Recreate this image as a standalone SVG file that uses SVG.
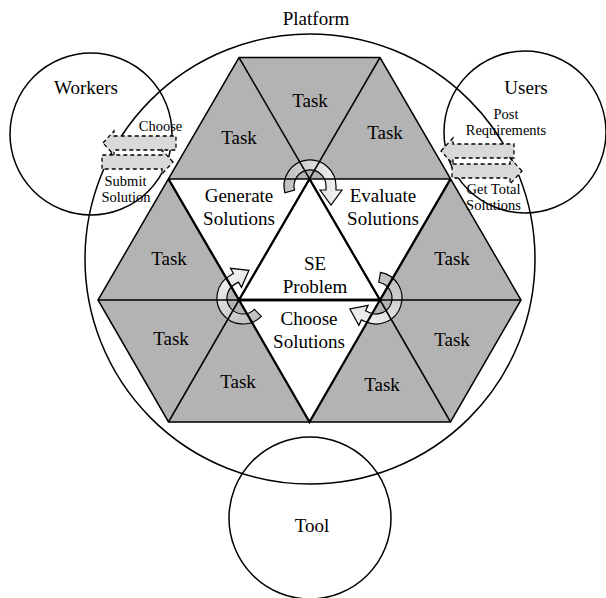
<svg xmlns="http://www.w3.org/2000/svg" width="606" height="598" viewBox="0 0 606 598">
<style>
  .txt{font-family:"Liberation Serif","Times New Roman",serif;fill:#000;text-anchor:middle}
  .big{font-size:19px}
  .sm{font-size:14.5px}
  .circ{fill:none;stroke:#000;stroke-width:1.5}
  .task{fill:#b3b3b3;stroke:none}
  .white{fill:#fff;stroke:none}
  .edge{fill:none;stroke:#000;stroke-width:1.5;stroke-linejoin:miter}
  .edge2{fill:none;stroke:#000;stroke-width:2.3;stroke-linejoin:miter}
  .blk{fill:#d9d9d9;stroke:#000;stroke-width:1.3;stroke-dasharray:4 3}
  .cyc{fill:url(#cg);stroke:#000;stroke-width:1.2}
</style>
<defs>
  <linearGradient id="cg" x1="0" y1="0" x2="1" y2="0">
    <stop offset="0" stop-color="#bdbdbd"/>
    <stop offset="1" stop-color="#f6f6f6"/>
  </linearGradient>
  <path id="cyc" class="cyc" d="M -25.11,6.73 A 26 26 0 1 1 26,0 L 26,4 L 32,4 L 21,19 L 10,4 L 16,4 L 16,0 A 16 16 0 1 0 -15.45,4.14 Z"/>
</defs>
<rect width="606" height="598" fill="#fff"/>

<g id="platform">
  <circle class="circ" cx="310" cy="259" r="225"/>
  <text class="txt big" x="316" y="25">Platform</text>
</g>
<g id="workers">
  <circle class="circ" cx="91" cy="134" r="81"/>
  <text class="txt big" x="86" y="94">Workers</text>
</g>
<g id="users">
  <circle class="circ" cx="525" cy="132" r="81"/>
  <text class="txt big" x="526" y="94">Users</text>
</g>
<g id="tool">
  <circle class="circ" cx="310" cy="518" r="81"/>
  <text class="txt big" x="312" y="532">Tool</text>
</g>

<g id="task-top-left"><polygon class="task" points="239,57.5 168.5,179 309.5,179"/><text class="txt big" x="239" y="144">Task</text></g>
<g id="task-top"><polygon class="task" points="239,57.5 380,57.5 309.5,179"/><text class="txt big" x="310" y="107">Task</text></g>
<g id="task-top-right"><polygon class="task" points="380,57.5 309.5,179 450.5,179"/><text class="txt big" x="385" y="139">Task</text></g>
<g id="task-left-1"><polygon class="task" points="168.5,179 239,300 98,300"/><text class="txt big" x="169" y="265">Task</text></g>
<g id="task-left-2"><polygon class="task" points="98,300 239,300 168.5,422"/><text class="txt big" x="171" y="345">Task</text></g>
<g id="task-left-3"><polygon class="task" points="239,300 309.5,422 168.5,422"/><text class="txt big" x="238" y="388">Task</text></g>
<g id="task-right-1"><polygon class="task" points="450.5,179 521,300 380,300"/><text class="txt big" x="452" y="265">Task</text></g>
<g id="task-right-2"><polygon class="task" points="380,300 521,300 450.5,422"/><text class="txt big" x="452" y="346">Task</text></g>
<g id="task-right-3"><polygon class="task" points="380,300 309.5,422 450.5,422"/><text class="txt big" x="382" y="391">Task</text></g>
<g id="generate"><polygon class="white" points="168.5,179 309.5,179 239,300"/><text class="txt big" x="239" y="202">Generate</text><text class="txt big" x="239" y="225">Solutions</text></g>
<g id="evaluate"><polygon class="white" points="309.5,179 450.5,179 380,300"/><text class="txt big" x="383" y="202">Evaluate</text><text class="txt big" x="383" y="225">Solutions</text></g>
<g id="se-problem"><polygon class="white" points="309.5,179 239,300 380,300"/><text class="txt big" x="315" y="270">SE</text><text class="txt big" x="315" y="293">Problem</text></g>
<g id="choose"><polygon class="white" points="239,300 380,300 309.5,422"/><text class="txt big" x="309" y="325">Choose</text><text class="txt big" x="309" y="348">Solutions</text></g>

<g id="connectors">
  <use href="#cyc" transform="translate(310,186)"/>
  <use href="#cyc" transform="translate(376,298) rotate(115)"/>
  <use href="#cyc" transform="translate(243,298) rotate(240)"/>
  <path class="blk" d="M103,143 L114,131 L114,136 L176,136 L176,150 L114,150 L114,155 Z"/>
  <path class="blk" d="M173,162 L162,150 L162,155 L102,155 L102,169 L162,169 L162,174 Z"/>
  <path class="blk" d="M441,151 L453,138 L453,144 L514,144 L514,158 L453,158 L453,164 Z"/>
  <path class="blk" d="M522,171 L510,158 L510,164 L452,164 L452,178 L510,178 L510,184 Z"/>
  <text class="txt sm" x="160.5" y="131">Choose</text>
  <text class="txt sm" x="125.5" y="186">Submit</text>
  <text class="txt sm" x="126" y="202">Solution</text>
  <text class="txt sm" x="506" y="119">Post</text>
  <text class="txt sm" x="506" y="135">Requirements</text>
  <text class="txt sm" x="493.5" y="194">Get Total</text>
  <text class="txt sm" x="493.5" y="210">Solutions</text>
</g>

<g id="edges">
  <polygon class="edge" points="239,57.5 380,57.5 521,300 450.5,422 168.5,422 98,300"/>
  <line class="edge" x1="168.5" y1="179" x2="450.5" y2="179"/>
  <line class="edge" x1="98" y1="300" x2="521" y2="300"/>
  <line class="edge" x1="239" y1="57.5" x2="380" y2="300"/>
  <line class="edge" x1="380" y1="57.5" x2="239" y2="300"/>
  <line class="edge" x1="168.5" y1="179" x2="239" y2="300"/>
  <line class="edge" x1="450.5" y1="179" x2="380" y2="300"/>
  <line class="edge" x1="239" y1="300" x2="168.5" y2="422"/>
  <line class="edge" x1="380" y1="300" x2="450.5" y2="422"/>
  <polygon class="edge2" points="309.5,179 239,300 380,300"/>
  <polygon class="edge2" points="239,300 380,300 309.5,422"/>
  <line class="edge2" x1="168.5" y1="179" x2="239" y2="300"/>
  <line class="edge2" x1="450.5" y1="179" x2="380" y2="300"/>
</g>
</svg>
